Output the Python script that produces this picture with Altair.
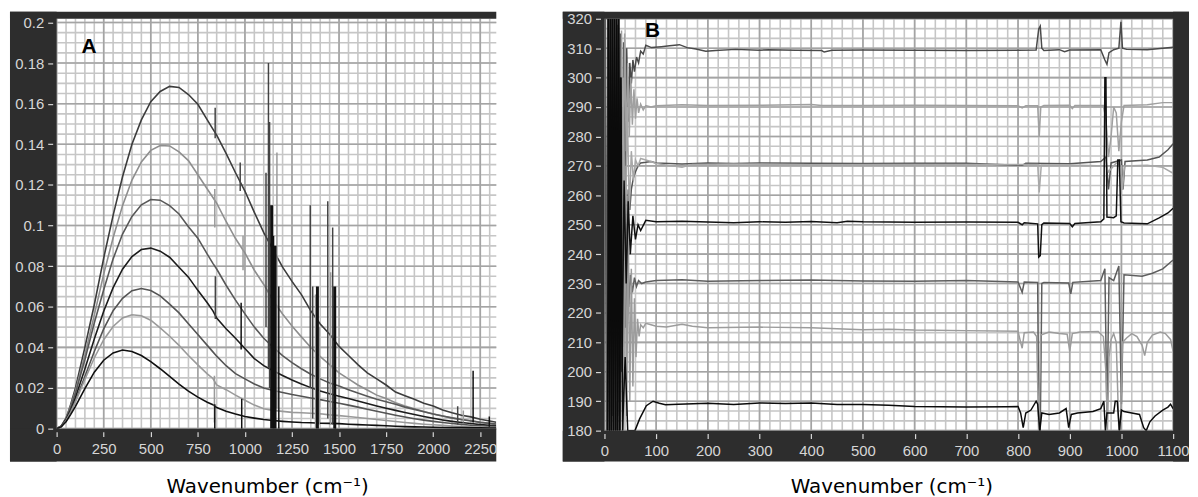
import altair as alt
import pandas as pd

# ---------------- colours / fonts ----------------
FRAME = "#2d2d2d"
LBL = "#d6d6d6"
TICK_FONT = "Liberation Sans"
TITLE_FONT = "DejaVu Sans"
GRID_MINOR = "#c6c6c6"
GRID_MAJOR = "#a4a4a4"

# ---------------- Panel A data (left) ----------------
A_X = [0, 25, 50, 75, 100, 150, 200, 250, 300, 350, 400, 450, 500, 550, 600, 650, 700,
       750, 800, 830, 850, 900, 950, 1000, 1050, 1100, 1150, 1200, 1250, 1300, 1350,
       1400, 1450, 1500, 1550, 1600, 1650, 1700, 1750, 1800, 1850, 1900, 1950, 2000,
       2050, 2100, 2150, 2200, 2250, 2300, 2335]
A1 = [0, 0.001, 0.005, 0.012, 0.020, 0.040, 0.061, 0.084, 0.105, 0.124, 0.140, 0.152,
      0.161, 0.166, 0.1685, 0.168, 0.1645, 0.1597, 0.152, 0.1475, 0.1445, 0.1355, 0.126,
      0.117, 0.1065, 0.0965, 0.088, 0.0795, 0.0725, 0.066, 0.058, 0.0515, 0.0465, 0.0405,
      0.036, 0.0315, 0.0275, 0.0245, 0.0215, 0.018, 0.0162, 0.0145, 0.0125, 0.0112,
      0.0092, 0.0078, 0.0066, 0.0058, 0.0046, 0.0038, 0.0032]
A2 = [0, 0.0014, 0.0054, 0.0112, 0.0186, 0.0363, 0.0559, 0.0761, 0.094, 0.1098, 0.1224,
      0.1313, 0.137, 0.1394, 0.1392, 0.1363, 0.132, 0.125, 0.118, 0.1138, 0.111, 0.102,
      0.0936, 0.0865, 0.078, 0.071, 0.063, 0.0565, 0.0505, 0.0452, 0.04, 0.0355, 0.0315,
      0.0275, 0.0245, 0.0215, 0.019, 0.0165, 0.0148, 0.0128, 0.0112, 0.0098, 0.0085,
      0.0072, 0.0062, 0.0052, 0.0045, 0.004, 0.0032, 0.0026, 0.0022]
A3 = [0, 0.0014, 0.0051, 0.0106, 0.0175, 0.0339, 0.052, 0.0684, 0.0836, 0.0958, 0.1045,
      0.1102, 0.1128, 0.1125, 0.1098, 0.1057, 0.0994, 0.0938, 0.0859, 0.0814, 0.0786,
      0.0706, 0.0633, 0.0565, 0.05, 0.0445, 0.040, 0.036, 0.0325, 0.0295, 0.0268,
      0.0245, 0.0225, 0.021, 0.0192, 0.0175, 0.016, 0.0145, 0.0132, 0.012, 0.0106,
      0.0095, 0.0083, 0.0072, 0.0062, 0.0053, 0.0045, 0.0038, 0.0031, 0.0026, 0.0023]
A4 = [0, 0.0012, 0.0045, 0.0093, 0.0153, 0.0294, 0.0441, 0.0578, 0.0694, 0.0785, 0.0847,
      0.0882, 0.0889, 0.0874, 0.0844, 0.0795, 0.0746, 0.0681, 0.062, 0.058, 0.0545,
      0.0492, 0.0445, 0.0395, 0.0345, 0.031, 0.0285, 0.0262, 0.024, 0.022, 0.0202,
      0.0185, 0.0172, 0.016, 0.0148, 0.0136, 0.0124, 0.0112, 0.0101, 0.009, 0.008,
      0.007, 0.006, 0.0051, 0.0043, 0.0036, 0.003, 0.0025, 0.002, 0.0016, 0.0014]
A5 = [0, 0.0011, 0.004, 0.0085, 0.0136, 0.0257, 0.038, 0.0491, 0.0581, 0.0642, 0.0679,
      0.069, 0.068, 0.0654, 0.0613, 0.057, 0.0516, 0.0464, 0.041, 0.0378, 0.0357, 0.031,
      0.0271, 0.0245, 0.022, 0.020, 0.0188, 0.0178, 0.0168, 0.016, 0.0151, 0.0143,
      0.0134, 0.0125, 0.0116, 0.0106, 0.0096, 0.0086, 0.0076, 0.0066, 0.0057, 0.0049,
      0.0042, 0.0036, 0.003, 0.0025, 0.0021, 0.0017, 0.0014, 0.0011, 0.001]
A6 = [0, 0.0011, 0.0038, 0.008, 0.0131, 0.0242, 0.0348, 0.0438, 0.0503, 0.0545, 0.0561,
      0.0556, 0.0534, 0.0496, 0.0455, 0.041, 0.036, 0.0314, 0.027, 0.0247, 0.0215,
      0.0192, 0.0165, 0.014, 0.0116, 0.0098, 0.009, 0.0085, 0.008, 0.0078, 0.0076,
      0.0073, 0.0068, 0.0064, 0.006, 0.0055, 0.005, 0.0045, 0.004, 0.0035, 0.003,
      0.0026, 0.0022, 0.0019, 0.0016, 0.0013, 0.0011, 0.0009, 0.0008, 0.0007, 0.0006]
A7 = [0, 0.001, 0.0034, 0.007, 0.011, 0.0197, 0.0278, 0.0337, 0.0373, 0.0387, 0.038,
      0.036, 0.033, 0.0295, 0.0257, 0.0219, 0.0185, 0.0155, 0.013, 0.0118, 0.0104,
      0.0086, 0.0072, 0.006, 0.0052, 0.0045, 0.004, 0.0036, 0.0033, 0.003, 0.0029,
      0.0027, 0.0026, 0.0025, 0.0022, 0.002, 0.0018, 0.0016, 0.0014, 0.0012, 0.001,
      0.0009, 0.0008, 0.0007, 0.0006, 0.0005, 0.0005, 0.0004, 0.0004, 0.0003, 0.0003]

# spikes (x, low, high)
A_SPIKES_DARK = [(842, 0.143, 0.158), (975, 0.117, 0.131), (1112, 0.05, 0.126),
                 (1125, 0.03, 0.18), (1131, 0.02, 0.151), (1347, 0.02, 0.11),
                 (1360, 0.005, 0.07), (1440, 0.005, 0.112), (1466, 0.002, 0.099),
                 (843, 0.054, 0.075), (2130, 0.002, 0.011)]
A_SPIKES_LIGHT = [(840, 0.099, 0.118), (838, 0.003, 0.026), (990, 0.078, 0.095),
                  (1170, 0.01, 0.136), (1375, 0.0, 0.066), (1455, 0.002, 0.077),
                  (2160, 0.003, 0.009), (1395, 0.002, 0.05)]
A_SPIKES_BLACK_THICK = [(1142, 0.0, 0.11), (1160, 0.0, 0.09), (1385, 0.0, 0.07),
                        (1477, 0.0, 0.07)]
A_SPIKES_BLACK = [(840, 0.0, 0.012), (980, 0.039, 0.062), (983, 0.0, 0.0147),
                  (1180, 0.0, 0.07), (1480, 0.0, 0.05), (2212, 0.003, 0.0285),
                  (2298, 0.001, 0.006), (1152, 0.0, 0.095)]

A_XTICKS = [0, 250, 500, 750, 1000, 1250, 1500, 1750, 2000, 2250]
A_YTICKS = [0, 0.02, 0.04, 0.06, 0.08, 0.1, 0.12, 0.14, 0.16, 0.18, 0.2]

# ---------------- Panel B data (right) ----------------
B1 = [(1,320),(4,180),(7,320),(10,180),(13,320),(16,185),(19,320),(22,190),(25,318),(28,200),
      (31,315),(34,230),(37,312),(40,260),(43,310),(46,285),(49,305),(52,298),(55,306),(58,302),
      (62,307),(66,305),(70,309),(75,308),(80,311),(91,310.2),(110,310.5),(126,310.8),(145,311.2),
      (160,310.2),(177,309.7),(196,309),(215,309.2),(254,309.6),(300,309.3),(318,309.5),
      (370,309.3),(420,309.2),(425,308.7),(440,309.3),(500,309.4),(600,309.3),(700,309.2),
      (800,309.3),(835,309.4),(840,316.5),(843,317.5),(846,310),(850,309.2),(880,309.5),
      (890,308.8),(900,309.4),(960,309.5),(968,306),(972,304.5),(976,308.5),(985,309.5),
      (995,310),(999,319),(1002,310),(1010,309.6),(1050,309.5),(1080,310),(1100,310.3)]
B2 = [(15,320),(18,180),(21,320),(24,190),(27,320),(30,200),(33,316),(36,260),(39,315),(42,275),
      (45,305),(48,280),(51,300),(54,284),(57,296),(60,286),(63,293),(66,288),(70,291),(75,289),
      (80,290.5),(90,290),(100,290.4),(150,290.8),(200,290.5),(300,290.6),(400,290.9),(420,290.5),
      (500,290.5),(600,290.6),(700,290.5),(800,290.4),(808,289.7),(815,290.4),(838,290.4),
      (841,280),(844,290),(850,290.5),(900,290.6),(905,289.5),(910,290.5),(965,290.5),(970,286),
      (975,273),(980,280),(985,290),(990,288),(995,275),(1000,285),(1005,290.5),(1050,290.8),
      (1080,291.5),(1100,291.5)]
B3_DARK = [(10,320),(13,180),(16,320),(19,180),(22,310),(25,190),(28,300),(31,200),(34,290),
           (37,215),(40,280),(43,230),(46,262),(49,255),(52,262),(56,266),(60,268),(65,270),
           (70,271),(80,271.2),(90,271.5),(100,271),(150,270.6),(200,271),(250,270.8),(300,271),
           (400,270.9),(500,270.8),(600,270.9),(700,270.9),(808,270.2),(815,270.9),(900,270.7),
           (960,271.5),(970,273),(975,262),(980,271),(1000,272),(1003,262),(1007,271.5),
           (1050,272),(1073,273),(1090,275.5),(1100,277.5)]
B3_LIGHT = [(20,320),(24,200),(28,315),(32,220),(36,300),(40,240),(44,290),(48,255),(52,275),
            (56,265),(60,272),(65,270),(70,272.5),(80,272),(90,271.5),(100,270.8),(130,270),
            (150,269.5),(170,270.5),(250,270.6),(400,270.4),(600,270.5),(800,270.5),(838,270.5),
            (841,261),(845,270.3),(900,270.3),(970,270),(975,268),(990,271),(1000,270),
            (1002,262),(1006,270),(1050,270.2),(1080,269.5),(1100,267.5)]
B4 = [(7,320),(9,180),(11,320),(13,180),(15,320),(17,180),(19,320),(21,180),(23,320),(25,180),
      (27,320),(29,180),(31,300),(34,200),(38,265),(42,230),(46,258),(50,240),(55,253),
      (60,245),(65,250),(70,248),(80,251.5),(100,251),(150,251.2),(200,250.9),(250,250.7),
      (300,251),(350,250.8),(400,251.1),(450,250.7),(470,251.2),(500,251),(600,250.8),
      (700,250.9),(800,250.8),(808,250),(812,250.7),(838,250.3),(840,239),(843,239.5),
      (846,250),(850,250.6),(900,250.4),(905,249.3),(910,250.4),(960,251),(966,252),(968,300),
      (970,300),(972,252.6),(985,252.4),(990,253),(993,272),(996,272),(999,251),(1005,250.6),
      (1050,250.3),(1073,252.3),(1090,254),(1100,255.6)]
B5 = [(2,320),(5,180),(8,320),(11,180),(14,315),(17,180),(20,300),(23,180),(26,280),(29,185),
      (32,270),(35,190),(38,245),(41,215),(44,238),(47,222),(50,233),(54,227),(58,232),
      (62,229),(66,231),(72,230),(80,230.5),(100,231),(150,231.3),(200,230.8),(300,231),
      (400,231.2),(500,230.9),(600,230.8),(700,231),(800,230.5),(808,227),(812,230.5),
      (838,230.4),(840,180),(843,180),(846,230),(850,230.4),(898,230.2),(902,226.5),(906,230.4),
      (960,231),(968,235),(972,185),(976,232),(985,231),(995,236),(1000,189),(1005,233),
      (1040,232.5),(1060,233.5),(1080,235),(1100,238)]
B6 = [(10,320),(13,180),(16,320),(19,180),(22,310),(25,180),(28,300),(31,180),(34,290),(37,180),
      (40,270),(43,185),(46,250),(49,190),(52,235),(55,195),(58,225),(61,205),(64,218),(67,212),
      (70,216),(75,215),(80,216.5),(90,216),(100,215.5),(120,215.2),(150,216.2),(170,215.5),
      (200,215),(300,215.2),(400,215),(450,214.6),(500,214.3),(550,214.5),(600,214.2),(700,214),
      (800,213.8),(805,210),(808,208),(812,213.3),(830,213.5),(836,212),(840,180),(844,212.5),
      (860,213.5),(880,213),(895,212.8),(900,207),(905,213),(920,213.5),(955,213.7),(965,212),
      (970,200),(973,180),(976,205),(980,211),(985,213),(990,210),(995,180),(998,180),
      (1002,210),(1010,211.5),(1020,213),(1030,212),(1040,209),(1045,205.5),(1050,210),
      (1060,212.5),(1075,213.5),(1085,213),(1095,211),(1100,207)]
B7 = [(6,180),(8,320),(10,180),(12,320),(14,180),(16,320),(18,180),(20,320),(22,180),(24,320),
      (26,180),(28,320),(30,180),(32,300),(35,180),(40,205),(45,180),(59,180),(68,184),
      (81,188.5),(94,190),(106,189.3),(118,188.8),(143,189),(200,189.3),(250,188.9),
      (300,189.4),(350,189.2),(400,189.4),(450,188.9),(500,188.9),(550,188.6),(600,188.2),
      (700,188),(780,188.1),(800,188.2),(805,186),(810,181),(815,186),(825,187),(835,190),
      (838,189),(842,180),(846,186),(860,185.5),(880,186),(893,187.5),(898,181),(903,185.5),
      (915,186),(945,186.5),(960,187.5),(966,190),(969,180),(972,186),(985,186),(988,190),
      (992,190),(996,180),(1000,187),(1005,186.5),(1020,186),(1035,185.5),(1043,181),
      (1048,180),(1055,183),(1065,185),(1080,187),(1090,188),(1095,189),(1100,187.5)]

B_XTICKS = [0, 100, 200, 300, 400, 500, 600, 700, 800, 900, 1000, 1100]
B_YTICKS = [180, 190, 200, 210, 220, 230, 240, 250, 260, 270, 280, 290, 300, 310, 320]

TITLE = "Wavenumber (cm\u207b\u00b9)"

# ---------------- helpers ----------------
def xaxis(values, fmt, title_x, title_y):
    return alt.Axis(values=values, format=fmt, grid=False, domain=False,
                    tickColor=LBL, tickSize=5, tickWidth=1.2, offset=3,
                    labelColor=LBL, labelFont=TICK_FONT, labelFontSize=15,
                    labelPadding=5, labelOverlap=False, labelFlush=False,
                    title=TITLE, titleFont=TITLE_FONT, titleFontSize=20,
                    titleFontWeight="normal", titleColor="#000000",
                    titleX=title_x, titleY=title_y, titleBaseline="middle",
                    titleAlign="center", zindex=2)


def yaxis(values, fmt):
    return alt.Axis(values=values, format=fmt, grid=False, domain=False,
                    tickColor=LBL, tickSize=5, tickWidth=1.2, offset=4,
                    labelColor=LBL, labelFont=TICK_FONT, labelFontSize=15,
                    labelPadding=4, labelOverlap=False, labelFlush=False,
                    title=None, zindex=2)


class Panel:
    """Holds the shared scales/axes of one panel so every layer uses identical ones."""

    def __init__(self, xs, ys, xax, yax):
        self.xs, self.ys, self.xax, self.yax = xs, ys, xax, yax

    def X(self, f):
        return alt.X(f, scale=self.xs, axis=self.xax)

    def Y(self, f):
        return alt.Y(f, scale=self.ys, axis=self.yax)

    def grid(self, values, channel, color):
        ch = alt.Chart(pd.DataFrame({"v": values})).mark_rule(color=color, strokeWidth=1.6)
        return ch.encode(x=self.X("v:Q")) if channel == "x" else ch.encode(y=self.Y("v:Q"))


def frame(x1, x2, y1, y2):
    return alt.Chart(alt.Data(values=[{"k": 0}])).mark_rect(color=FRAME).encode(
        x=alt.value(x1), x2=alt.value(x2), y=alt.value(y1), y2=alt.value(y2))


# ---------------- Panel A ----------------
AW, AH = 443, 413
PA = Panel(alt.Scale(domain=[0, 2335], nice=False, zero=False),
           alt.Scale(domain=[0, 0.2018], nice=False, zero=False),
           xaxis(A_XTICKS, "d", 212, 55), yaxis(A_YTICKS, "~g"))

a_layers = [
    PA.grid([i * 50 for i in range(47)], "x", GRID_MINOR),
    PA.grid([i * 0.005 for i in range(41)], "y", GRID_MINOR),
    PA.grid(A_XTICKS, "x", GRID_MAJOR),
    PA.grid(A_YTICKS, "y", GRID_MAJOR),
]
a_series = [(A1, "#3c3c3c"), (A2, "#8e8e8e"), (A3, "#585858"), (A4, "#1c1c1c"),
            (A5, "#545454"), (A6, "#9a9a9a"), (A7, "#101010")]
for ys, col in a_series:
    df = pd.DataFrame({"x": A_X, "y": ys})
    a_layers.append(alt.Chart(df).mark_line(color=col, strokeWidth=1.6, clip=True)
                    .encode(x=PA.X("x:Q"), y=PA.Y("y:Q")))

for spikes, col, w in [(A_SPIKES_LIGHT, "#9a9a9a", 1.5), (A_SPIKES_DARK, "#444444", 1.5),
                       (A_SPIKES_BLACK, "#111111", 1.5), (A_SPIKES_BLACK_THICK, "#111111", 3)]:
    df = pd.DataFrame(spikes, columns=["x", "lo", "hi"])
    a_layers.append(alt.Chart(df).mark_rule(color=col, strokeWidth=w, clip=True).encode(
        x=PA.X("x:Q"), y=PA.Y("lo:Q"), y2="hi:Q"))

a_layers.append(alt.Chart(pd.DataFrame({"x": [172], "y": [0.188], "t": ["A"]}))
                .mark_text(font="Liberation Sans", fontWeight="bold", fontSize=21,
                           color="#000000", align="center", baseline="middle")
                .encode(x=PA.X("x:Q"), y=PA.Y("y:Q"), text="t:N"))

a_layers += [frame(-47, AW, -7, 0), frame(-47, 0, -7, AH + 33), frame(-47, AW, AH, AH + 33)]
panelA = alt.layer(*a_layers).properties(width=AW, height=AH)

# ---------------- Panel B ----------------
BW, BH = 573, 415
PB = Panel(alt.Scale(domain=[0, 1100], nice=False, zero=False),
           alt.Scale(domain=[180, 320], nice=False, zero=False),
           xaxis(B_XTICKS, "d", 289, 53), yaxis(B_YTICKS, "d"))

b_layers = [
    PB.grid([i * 20 for i in range(56)], "x", GRID_MINOR),
    PB.grid([180 + i * 10 / 3 for i in range(43)], "y", GRID_MINOR),
    PB.grid(B_XTICKS, "x", GRID_MAJOR),
    PB.grid(B_YTICKS, "y", GRID_MAJOR),
]
b_series = [(B1, "#4a4a4a"), (B3_DARK, "#555555"), (B5, "#5e5e5e"), (B2, "#a0a0a0"),
            (B3_LIGHT, "#a8a8a8"), (B6, "#9c9c9c"), (B4, "#111111"), (B7, "#0b0b0b")]
for pts, col in b_series:
    df = pd.DataFrame(pts, columns=["x", "y"])
    df["i"] = range(len(df))
    b_layers.append(alt.Chart(df).mark_line(color=col, strokeWidth=1.5, clip=True)
                    .encode(x=PB.X("x:Q"), y=PB.Y("y:Q"), order="i:Q"))

b_layers.append(alt.Chart(pd.DataFrame({"x": [93], "y": [315.8], "t": ["B"]}))
                .mark_text(font="Liberation Sans", fontWeight="bold", fontSize=21,
                           color="#000000", align="center", baseline="middle")
                .encode(x=PB.X("x:Q"), y=PB.Y("y:Q"), text="t:N"))

b_layers += [frame(-42, BW + 16, -7, 0), frame(-42, 0, -7, BH + 31),
             frame(-42, BW + 16, BH, BH + 31), frame(BW, BW + 16, -7, BH + 31)]
panelB = alt.layer(*b_layers).properties(width=BW, height=BH)

chart = (alt.hconcat(panelA, panelB, spacing=66)
         .properties(padding={"left": 2, "top": 2, "right": 0, "bottom": 0},
                     background="white")
         .configure_view(stroke=None, fill="white"))

chart.save("out.html", embed_options={"renderer": "svg", "actions": False})
